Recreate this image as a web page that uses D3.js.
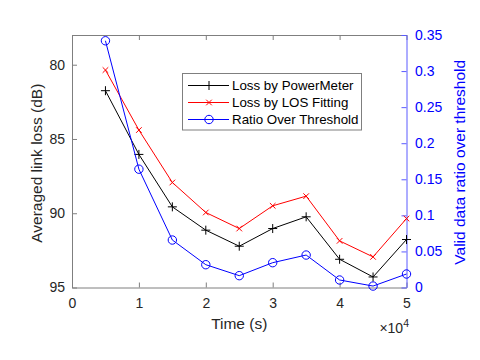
<!DOCTYPE html>
<html>
<head>
<meta charset="utf-8">
<script src="https://cdn.jsdelivr.net/npm/d3@7"></script>
<style>
  body { margin: 0; background: #fff; }
  text { font-family: "Liberation Sans", Arial, sans-serif; }
</style>
</head>
<body>
<div id="root"></div>
<script>
// time in seconds
const times = [5000, 10000, 15000, 20000, 25000, 30000, 35000, 40000, 45000, 50000];
// dB, left axis (reversed)
const lossPowerMeter = [81.75, 86.04, 89.57, 91.14, 92.22, 91.03, 90.24, 93.1, 94.29, 91.77];
const lossLOS = [80.36, 84.4, 87.93, 89.95, 91.03, 89.5, 88.85, 91.86, 92.94, 90.36];
// right axis
const ratioOver = [0.342, 0.164, 0.0658, 0.0316, 0.0164, 0.0344, 0.045, 0.0104, 0.002, 0.0187];

const xTicks = [0, 10000, 20000, 30000, 40000, 50000];
const xTickLabels = ["0", "1", "2", "3", "4", "5"];
const leftTicks = [80, 85, 90, 95];
const rightTicks = [0, 0.05, 0.1, 0.15, 0.2, 0.25, 0.3, 0.35];
const rightTickLabels = ["0", "0.05", "0.1", "0.15", "0.2", "0.25", "0.3", "0.35"];

const width = 480;
const height = 360;
const plotL = 72, plotR = 406.5, plotT = 35, plotB = 287.5;
const tickFont = "14px";
const labelFont = "15.5px";
const legendFont = "13.33px";
const gray = "#262626";
const axisGray = "#7f7f7f";

const x = d3.scaleLinear().domain([0, 50000]).range([plotL, plotR]);
const yL = d3.scaleLinear().domain([78, 95]).range([plotT, plotB]);
const yR = d3.scaleLinear().domain([0, 0.35]).range([plotB, plotT]);

const svg = d3.select("#root").append("svg")
  .attr("width", width)
  .attr("height", height);

// axes (ticks pointing inward, matlab style)
const styleAxis = (g, col, textCol) => {
  g.selectAll("path.domain").attr("stroke", col);
  g.selectAll(".tick line").attr("stroke", col);
  g.selectAll("text").attr("fill", textCol).style("font-size", tickFont)
    .style("font-family", "Liberation Sans, Arial, sans-serif");
};

svg.append("g")
  .attr("transform", `translate(0,${plotT})`)
  .call(d3.axisTop(x).tickValues(xTicks).tickFormat("").tickSizeInner(-5).tickSizeOuter(0))
  .call(g => styleAxis(g, axisGray, gray));

svg.append("g")
  .attr("transform", `translate(0,${plotB})`)
  .call(d3.axisBottom(x).tickValues(xTicks).tickFormat((d, i) => xTickLabels[i])
    .tickSizeInner(-5).tickSizeOuter(0).tickPadding(10.5))
  .call(g => styleAxis(g, axisGray, gray));

svg.append("g")
  .attr("transform", `translate(${plotL},0)`)
  .call(d3.axisLeft(yL).tickValues(leftTicks).tickSizeInner(-5).tickSizeOuter(0).tickPadding(7))
  .call(g => styleAxis(g, axisGray, gray));

svg.append("g")
  .attr("transform", `translate(${plotR},0)`)
  .call(d3.axisRight(yR).tickValues(rightTicks).tickFormat((d, i) => rightTickLabels[i])
    .tickSizeInner(-5).tickSizeOuter(0).tickPadding(8.5))
  .call(g => styleAxis(g, "#5a5aff", "#0000ff"));

// axis labels
svg.append("text")
  .attr("transform", `translate(42,${(plotT + plotB) / 2 + 2}) rotate(-90)`)
  .attr("text-anchor", "middle")
  .attr("fill", gray)
  .style("font-size", labelFont)
  .text("Averaged link loss (dB)");

svg.append("text")
  .attr("transform", `translate(465,${(plotT + plotB) / 2 + 1}) rotate(-90)`)
  .attr("text-anchor", "middle")
  .attr("fill", "#0000ff")
  .style("font-size", labelFont)
  .text("Valid data ratio over threshold");

svg.append("text")
  .attr("x", (plotL + plotR) / 2)
  .attr("y", 329)
  .attr("text-anchor", "middle")
  .attr("fill", gray)
  .style("font-size", labelFont)
  .text("Time (s)");

const expo = svg.append("text")
  .attr("x", 409)
  .attr("y", 333)
  .attr("text-anchor", "end")
  .attr("fill", gray)
  .style("font-size", tickFont);
expo.append("tspan").text("\u00d710");
expo.append("tspan").attr("dy", -6).style("font-size", "10.5px").text("4");

// markers
const drawMarker = (g, type, color, px, py) => {
  if (type === "plus") {
    g.append("path").attr("d", `M${px - 4.5},${py}H${px + 4.5}M${px},${py - 4.5}V${py + 4.5}`)
      .attr("stroke", color).attr("fill", "none");
  } else if (type === "x") {
    g.append("path").attr("d", `M${px - 2.8},${py - 2.8}L${px + 2.8},${py + 2.8}M${px - 2.8},${py + 2.8}L${px + 2.8},${py - 2.8}`)
      .attr("stroke", color).attr("fill", "none");
  } else {
    g.append("circle").attr("cx", px).attr("cy", py).attr("r", 4.2)
      .attr("stroke", color).attr("fill", "none");
  }
};

const series = [
  { name: "Loss by PowerMeter", values: lossPowerMeter, y: yL, color: "#000000", marker: "plus" },
  { name: "Loss by LOS Fitting", values: lossLOS, y: yL, color: "#ff0000", marker: "x" },
  { name: "Ratio Over Threshold", values: ratioOver, y: yR, color: "#0000ff", marker: "circle" },
];

series.forEach(s => {
  const line = d3.line().x((d, i) => x(times[i])).y(d => s.y(d));
  const g = svg.append("g");
  g.append("path")
    .datum(s.values)
    .attr("d", line)
    .attr("fill", "none")
    .attr("stroke", s.color)
    .attr("stroke-width", 1);
  s.values.forEach((v, i) => drawMarker(g, s.marker, s.color, x(times[i]), s.y(v)));
});

// legend
const legend = svg.append("g");
legend.append("rect")
  .attr("x", 182.5).attr("y", 73.5)
  .attr("width", 179).attr("height", 56.5)
  .attr("fill", "#fff")
  .attr("stroke", axisGray);

series.forEach((s, i) => {
  const cy = 85.5 + i * 17;
  legend.append("line")
    .attr("x1", 188).attr("x2", 229)
    .attr("y1", cy).attr("y2", cy)
    .attr("stroke", s.color);
  drawMarker(legend, s.marker, s.color, 209, cy);
  legend.append("text")
    .attr("x", 232).attr("y", cy + 4.7)
    .attr("fill", "#000")
    .style("font-size", legendFont)
    .text(s.name);
});
</script>
</body>
</html>
